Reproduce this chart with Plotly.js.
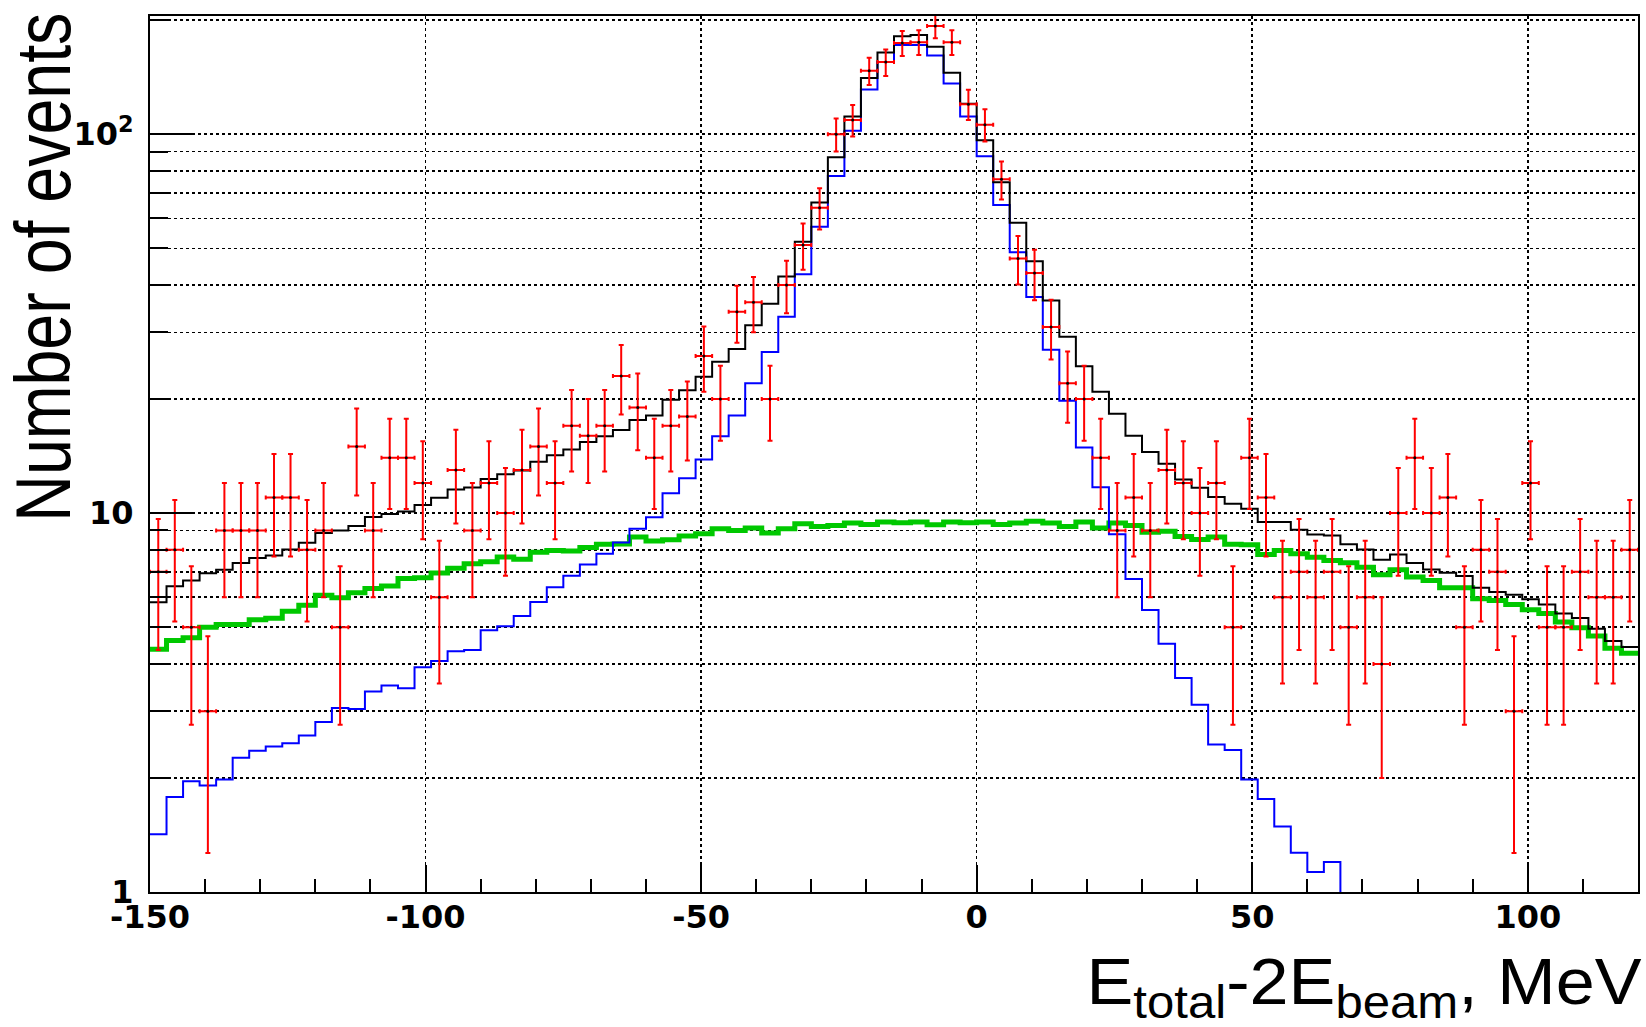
<!DOCTYPE html>
<html><head><meta charset="utf-8">
<script src="https://cdn.plot.ly/plotly-3.0.1.min.js"></script>
<style>html,body{margin:0;padding:0;background:#fff}#chart{width:1646px;height:1027px}</style>
</head><body><div id="chart"></div>
<script>
// Binning (MeV)
const binLow = -150;
const binWidth = 3;

// Data: events per bin (red points)
const dataCounts = [7,8,5,3,9,9,9,11,11,8, 9,5,15,9,14, 14,12,6,13,9, 12,10,13,15,12, 17,16,17,23,19,
  14,17,18,26,20, 34,36,20,40,51, 64,100,109,147,155, 174,175,193,175,120, 106,76,47,43,31,
  22,20,14,9,11, 9,13,12,10,12, 5,14,11,6,7, 6,7,5,6,4, 10,14,10,11,5, 8,7,3,12,5, 5,7,6,6,8];

// Total (black histogram)
const totalSum = [5.82,6.41,6.64,6.94,7.09,7.38,7.61,7.73,8.02,8.35, 8.86,9.00,9.24,9.76,9.95,
  10.1,10.5,10.97,11.54,11.68, 12.31,12.66,12.96,13.67,14.21, 14.72,15.41,15.96,16.56,17.6,
  18.1,19.9,21.1,22.9,25.1, 27.1,31.3,35.7,42.1,52.0, 66.0,86.9,111.4,140.7,164.4,
  181.4,182.8,170.2,145.3,120.4, 96.4,74.7,58.4,46.2,36.4, 29.2,24.4,20.9,18.3,16.0,
  14.5,13.5,12.27,11.66,11.02, 10.58,10.27,9.47,9.47,9.04, 8.78,8.73,8.27,8.02,7.53,
  7.78,7.38,7.10,6.96,6.82, 6.35,6.19,6.09,5.92,5.74, 5.43,5.29,4.95,4.60,4.43];

// Signal (blue histogram)
const signalHist = [1.42,1.78,1.96,1.91,1.98,2.26,2.36,2.42,2.47,2.59, 2.81,3.06,3.04,3.38,3.51,
  3.45,3.92,4.07,4.32,4.35, 4.91,5.03,5.35,5.83,6.37, 6.83,7.32,7.81,8.37,9.1,
  9.75,11.29,12.36,13.86,15.95, 18.1,22.0,26.6,33.0,42.7, 57.0,77.6,102.2,131.3,155.1,
  172.1,172.1,161.3,136.2,111.4, 87.5,65.0,48.8,37.2,27.0, 19.8,14.9,11.7,8.8,6.7,
  5.55,4.52,3.67,3.12,2.45, 2.37,1.98,1.76,1.49,1.27, 1.13,1.20,0.87,0.8,0.65,
  0.7,0.6,0.45,0.6,0.47, 0.41,0.31,0.35,0.36,0.31, 0.27,0.31,0.21,0.2,0.16];

// Background (green histogram)
const backgroundHist = [4.37,4.61,4.69,5.00,5.08,5.08,5.23,5.28,5.51,5.71, 6.07,5.98,6.16,6.32,6.42,
  6.72,6.75,6.95,7.15,7.35, 7.44,7.66,7.56,7.88,7.97, 7.94,8.12,8.27,8.29,8.65,
  8.44,8.50,8.70,8.82,9.09, 9.00,9.13,8.86,9.09,9.37, 9.22,9.28,9.41,9.33,9.47,
  9.43,9.47,9.31,9.47,9.43, 9.47,9.33,9.41,9.51,9.41, 9.22,9.47,9.13,9.41,9.28,
  8.9,8.96,8.68,8.52,8.65, 8.27,8.25,7.78,7.97,7.81, 7.65,7.50,7.40,7.20,6.88,
  7.09,6.78,6.64,6.35,6.35, 5.94,5.88,5.74,5.56,5.43, 5.16,4.98,4.74,4.40,4.27];

// Axis labels
const xTickVals = [-150, -100, -50, 0, 50, 100];
const xTickText = ['-150', '-100', '-50', '0', '50', '100'];
const yTickVals = [1, 10, 100];
const yTickText = ['1', '10', '10<sup>2</sup>'];
const yMinorVals = [2,3,4,5,6,7,8,9,20,30,40,50,60,70,80,90,200];

const nBins = dataCounts.length;
const binEdges = Array.from({length: nBins + 1}, (_, i) => binLow + i * binWidth);
const binCenters = Array.from({length: nBins}, (_, i) => binLow + (i + 0.5) * binWidth);
const stepY = v => v.concat([v[v.length - 1]]);

const traces = [
  {type:'scatter', mode:'lines', x: binEdges, y: stepY(backgroundHist),
   line:{shape:'hv', color:'#00c800', width:5}, hoverinfo:'skip'},
  {type:'scatter', mode:'lines', x: binEdges, y: stepY(signalHist),
   line:{shape:'hv', color:'#0000ff', width:2}, hoverinfo:'skip'},
  {type:'scatter', mode:'lines', x: binEdges, y: stepY(totalSum),
   line:{shape:'hv', color:'#000000', width:2}, hoverinfo:'skip'},
  {type:'scatter', mode:'markers', x: binCenters, y: dataCounts,
   marker:{size:3, color:'#000000'},
   error_y:{type:'data', array: dataCounts.map(Math.sqrt), color:'#ff0000', thickness:2, width:2.5},
   error_x:{type:'constant', value: binWidth / 2, color:'#ff0000', thickness:2, width:2},
   hoverinfo:'skip'}
];

const titleFont = "'Liberation Sans', Arial, Helvetica, sans-serif";
const tickFont = {family:"'DejaVu Sans', sans-serif", size:32, weight:'bold', color:'#000'};

const layout = {
  width:1646, height:1027,
  margin:{l:150, r:8, t:16, b:135},
  paper_bgcolor:'#ffffff', plot_bgcolor:'#ffffff',
  showlegend:false,
  xaxis:{
    range:[-150, 120], tickmode:'array', tickvals:xTickVals, ticktext:xTickText,
    ticks:'inside', ticklen:27, tickwidth:2, tickcolor:'#000',
    showline:true, linewidth:2, linecolor:'#000', mirror:true,
    showgrid:true, gridcolor:'#000', griddash:'3px,3px', gridwidth:1.5,
    zeroline:false,
    minor:{tick0:0, dtick:10, ticks:'inside', ticklen:13, tickwidth:2, tickcolor:'#000', showgrid:false},
    tickfont:tickFont,
    ticklabelstandoff:-4
  },
  yaxis:{
    type:'log', range:[0, 2.312],
    tickmode:'array', tickvals:yTickVals, ticktext:yTickText,
    ticks:'inside', ticklen:44, tickwidth:2, tickcolor:'#000',
    showline:true, linewidth:2, linecolor:'#000', mirror:true,
    showgrid:true, gridcolor:'#000', griddash:'3px,3px', gridwidth:1.5,
    zeroline:false,
    minor:{tickmode:'array', tickvals:yMinorVals, ticks:'inside', ticklen:18, tickwidth:2, tickcolor:'#000',
           showgrid:true, gridcolor:'#000', griddash:'3px,3px', gridwidth:1.5},
    tickfont:tickFont,
    ticklabelstandoff:8
  },
  annotations:[
    {xref:'paper', yref:'paper', x:0.8165, y:-0.154, xanchor:'center', yanchor:'bottom', yshift:-3,
     showarrow:false, text:'E<sub>total</sub>-2E<sub>beam</sub>, MeV',
     font:{family:titleFont, size:65, color:'#000'}},
    {xref:'paper', yref:'paper', x:0, y:0.7135, xanchor:'center', yanchor:'middle', xshift:-107,
     showarrow:false, textangle:-90, text:'Number of events',
     font:{family:titleFont, size:78, color:'#000'}}
  ]
};

Plotly.newPlot('chart', traces, layout, {staticPlot:true, displayModeBar:false}).then(gd => {
  // Condense / stretch the axis titles to the lengths they have in the reference
  gd.querySelectorAll('.annotation-text').forEach(t => {
    const s = t.textContent;
    if (s.indexOf('Number') === 0) {
      t.setAttribute('textLength', '509');
      t.setAttribute('lengthAdjust', 'spacingAndGlyphs');
    } else if (s.indexOf('E') === 0) {
      t.setAttribute('textLength', '555');
      t.setAttribute('lengthAdjust', 'spacingAndGlyphs');
    }
  });
});
</script>
</body></html>
